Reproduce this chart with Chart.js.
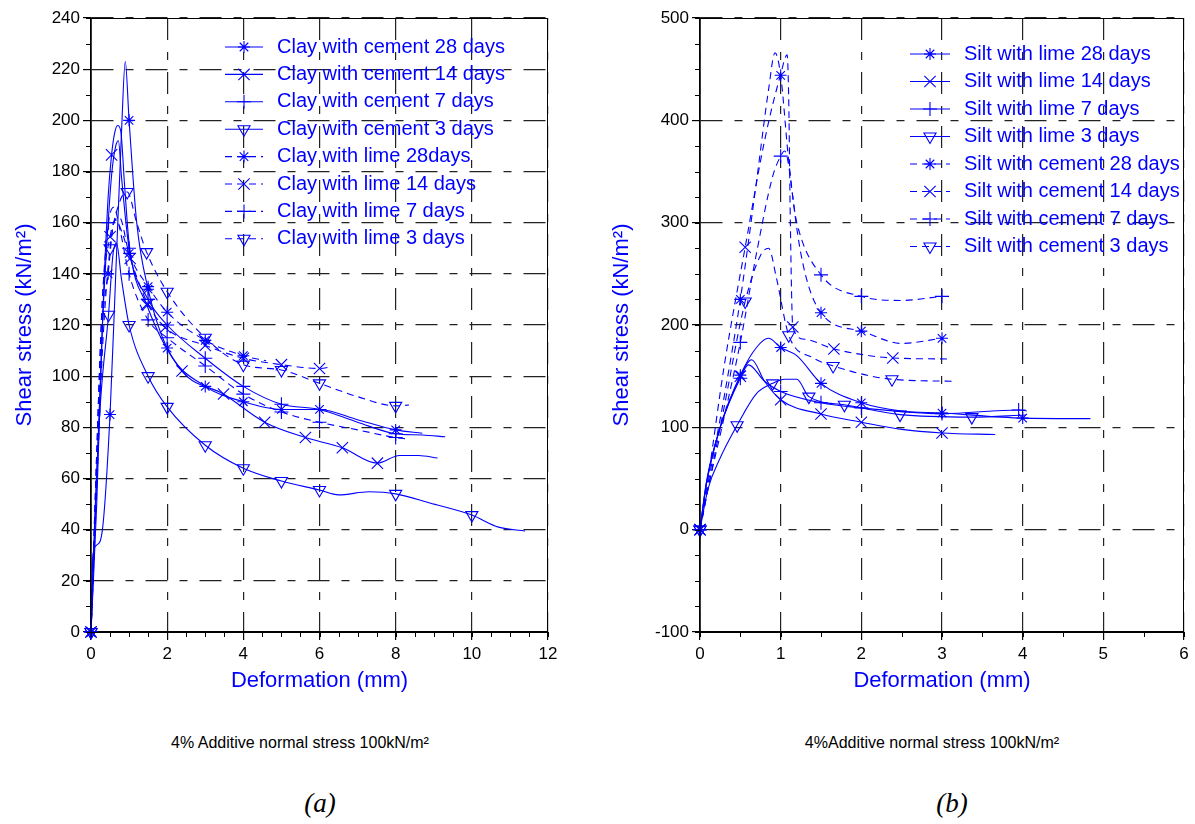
<!DOCTYPE html>
<html>
<head>
<meta charset="utf-8">
<script src="https://cdn.jsdelivr.net/npm/chart.js@4.4.1/dist/chart.umd.min.js"></script>
<style>
  body { margin: 0; background: #fff; width: 1195px; height: 824px; position: relative; overflow: hidden; font-family: 'Liberation Sans', Arial, sans-serif; }
  #boxA { position: absolute; left: 0; top: 0; width: 590px; height: 700px; }
  #boxB { position: absolute; left: 590px; top: 0; width: 605px; height: 700px; }
  .note { position: absolute; top: 734px; font-size: 16px; color: #000; transform: translateX(-50%); white-space: nowrap; }
  .tag { position: absolute; top: 788px; font: italic 27px 'Liberation Serif', 'Times New Roman', serif; color: #000; transform: translateX(-50%); }
</style>
</head>
<body>
<div id="boxA"><canvas id="clay"></canvas></div>
<div id="boxB"><canvas id="silt"></canvas></div>
<div class="note" style="left:300px">4% Additive normal stress 100kN/m²</div>
<div class="note" style="left:932px">4%Additive normal stress 100kN/m²</div>
<div class="tag" style="left:320px">(a)</div>
<div class="tag" style="left:952px">(b)</div>
<script>
// ---- (a) clay, deformation (mm) vs shear stress (kN/m²)
const clayCem28X = [0, 0.05, 0.15, 0.3, 0.5, 0.65, 0.8, 0.9, 1.0, 1.2, 1.5, 2, 3, 4, 5, 6, 7, 8, 8.7]
const clayCem28Y = [0, 30, 34, 40, 85, 140, 195, 223, 200, 160, 134, 111, 96, 90, 87, 87, 83, 79, 77.7]
const clayCem28Marks = [0, 4, 8, 10, 11, 12, 13, 14, 15, 17]

const clayCem14X = [0, 0.15, 0.3, 0.45, 0.54, 0.62, 0.7, 0.78, 0.88, 1.0, 1.46, 2.39, 3.48, 4.56, 5.63, 6.6, 7.52, 8.1, 8.6, 9.1]
const clayCem14Y = [0, 50, 120, 170, 186.5, 195, 198, 196, 175, 152, 128, 102, 93, 82, 76, 72, 66, 69, 69, 68]
const clayCem14Marks = [0, 4, 10, 11, 12, 13, 14, 15, 16]

const clayCem7X = [0, 0.15, 0.3, 0.45, 0.55, 0.65, 0.72, 0.8, 1.0, 1.5, 2, 3, 4, 5, 6, 7, 8, 8.7, 9.3]
const clayCem7Y = [0, 60, 120, 160, 180, 190, 192, 178, 150, 130, 120, 107, 96, 89, 87, 82, 77.5, 77, 76.3]
const clayCem7Marks = [0, 8, 9, 10, 11, 12, 13, 14, 16]

const clayCem3X = [0, 0.1, 0.25, 0.46, 0.58, 0.67, 0.8, 1.0, 1.5, 2, 3, 4, 5, 6, 6.5, 7.3, 8, 8.9, 10, 10.7, 11.4]
const clayCem3Y = [0, 45, 90, 124, 148, 152, 138, 120, 100, 88, 73, 64, 59, 55.5, 53.6, 54.8, 54, 50.4, 45.7, 41, 39.5]
const clayCem3Marks = [0, 3, 7, 8, 9, 10, 11, 12, 13, 16, 18]

const clayLime28X = [0, 0.15, 0.3, 0.45, 0.6, 0.75, 1.0, 1.5, 2, 3, 4, 4.6]
const clayLime28Y = [0, 60, 120, 140, 160, 162, 148, 135, 125, 114, 108, 106]
const clayLime28Marks = [0, 3, 6, 7, 8, 9, 10]

const clayLime14X = [0, 0.15, 0.3, 0.5, 0.65, 0.82, 1.03, 1.5, 1.95, 3, 4, 5, 6, 6.33]
const clayLime14Y = [0, 70, 130, 154.5, 161, 156, 146, 128, 119, 112, 107, 104.5, 103, 103.7]
const clayLime14Marks = [0, 3, 6, 7, 8, 9, 10, 11, 12]

const clayLime7X = [0, 0.15, 0.3, 0.46, 0.6, 0.75, 1.0, 1.5, 2, 3, 4, 5, 6, 7, 8, 8.3]
const clayLime7Y = [0, 70, 130, 160, 166, 158, 140, 122, 115, 104, 93, 86, 82, 79, 76, 75.5]
const clayLime7Marks = [0, 3, 6, 7, 8, 9, 10, 11, 12, 14]

const clayLime3X = [0, 0.15, 0.3, 0.5, 0.75, 0.95, 1.2, 1.46, 2, 3, 4, 5, 6, 7, 8, 8.35]
const clayLime3Y = [0, 55, 110, 150, 168, 172, 160, 148.5, 133, 115, 104.5, 102.4, 97.2, 92, 88.4, 88.7]
const clayLime3Marks = [0, 3, 5, 7, 8, 9, 10, 11, 12, 14]

// ---- (b) silt
const siltLime28X = [0, 0.08, 0.25, 0.5, 0.7, 0.85, 1.0, 1.2, 1.5, 2, 2.5, 3, 4, 4.84]
const siltLime28Y = [0, 47, 100, 151, 178, 187, 178, 170, 143, 124, 116, 114, 109, 108.5]
const siltLime28Marks = [0, 3, 6, 8, 9, 11, 12]

const siltLime14X = [0, 0.08, 0.25, 0.5, 0.64, 0.8, 1.0, 1.5, 2, 2.5, 3, 3.66]
const siltLime14Y = [0, 45, 100, 150, 166, 145, 127, 113, 105, 98, 94.5, 93]
const siltLime14Marks = [0, 3, 6, 7, 8, 10]

const siltLime7X = [0, 0.08, 0.25, 0.5, 0.6, 0.8, 1.0, 1.5, 2, 3, 3.95, 4.05]
const siltLime7Y = [0, 45, 100, 148, 161, 145, 135, 124, 119, 113.4, 117, 116]
const siltLime7Marks = [0, 3, 6, 7, 8, 9, 10]

const siltLime3X = [0, 0.1, 0.25, 0.46, 0.7, 0.9, 1.05, 1.2, 1.35, 1.79, 2.48, 3.37, 4.04]
const siltLime3Y = [0, 40, 70, 102, 133, 143, 147, 147, 130, 122, 112.4, 110, 112]
const siltLime3Marks = [0, 3, 5, 8, 9, 10, 11]

const siltCem28X = [0, 0.1, 0.3, 0.5, 0.7, 0.85, 0.93, 1.0, 1.1, 1.25, 1.5, 2, 2.5, 3]
const siltCem28Y = [0, 45, 130, 225, 340, 430, 466, 444, 360, 270, 212, 194, 182, 187]
const siltCem28Marks = [0, 3, 7, 10, 11, 13]

const siltCem14X = [0, 0.1, 0.3, 0.56, 0.8, 1.0, 1.08, 1.1, 1.12, 1.15, 1.3, 1.66, 2.39, 3.08]
const siltCem14Y = [0, 50, 160, 276, 380, 445, 464, 420, 300, 198, 186, 176.6, 167.8, 166.8]
const siltCem14Marks = [0, 3, 9, 11, 12]

const siltCem7X = [0, 0.1, 0.3, 0.5, 0.7, 0.9, 1.0, 1.05, 1.2, 1.5, 2, 2.5, 3]
const siltCem7Y = [0, 40, 110, 183, 270, 345, 365, 370, 300, 249, 228, 224, 228]
const siltCem7Marks = [0, 3, 6, 9, 10, 12]

const siltCem3X = [0, 0.1, 0.3, 0.56, 0.75, 0.85, 0.95, 1.1, 1.4, 1.65, 2.38, 3.17]
const siltCem3Y = [0, 40, 120, 223, 268, 275, 245, 190, 168, 160, 147, 145]
const siltCem3Marks = [0, 3, 7, 9, 10]

const BLUE = '#0000ff'
const FONT = "'Liberation Sans', Arial, sans-serif"
Chart.defaults.font.family = FONT

// marker shapes used by both panels
const STAR = { shape: 'star', rot: 0, r: 6 }
const XMARK = { shape: 'crossRot', rot: 0, r: 8 }
const PLUS = { shape: 'cross', rot: 0, r: 7 }
const TRI = { shape: 'triangle', rot: 180, r: 7 }

const series = (label, xs, ys, marks, mk, dashed) => ({
	label,
	data: xs.map((x, i) => ({ x, y: ys[i] })),
	showLine: true,
	borderColor: BLUE,
	borderWidth: 1.1,
	borderDash: dashed ? [7, 5] : [],
	cubicInterpolationMode: 'monotone',
	pointStyle: mk.shape,
	pointRotation: mk.rot,
	pointRadius: ctx => marks.includes(ctx.dataIndex) ? mk.r : 0,
	pointBorderColor: BLUE,
	pointBackgroundColor: 'rgba(0,0,0,0)',
	pointBorderWidth: 1.1,
	clip: false,
	marker: mk
})

// minor tick marks, box outline and the in-plot legend
const extras = {
	id: 'extras',
	afterDraw(chart, args, opts) {
		const { ctx, chartArea: a } = chart
		const sx = chart.scales.x, sy = chart.scales.y
		ctx.save()
		ctx.strokeStyle = '#000'
		ctx.lineWidth = 1
		ctx.setLineDash([])
		ctx.beginPath()
		for (let v = sx.min; v <= sx.max + 1e-9; v += opts.minorX) {
			const p = Math.round(sx.getPixelForValue(v)) + 0.5
			ctx.moveTo(p, a.bottom); ctx.lineTo(p, a.bottom + 5)
		}
		for (let v = sy.min; v <= sy.max + 1e-9; v += opts.minorY) {
			const p = Math.round(sy.getPixelForValue(v)) + 0.5
			ctx.moveTo(a.left - 5, p); ctx.lineTo(a.left, p)
		}
		ctx.stroke()
		ctx.strokeRect(a.left, a.top + 0.5, a.right - a.left - 0.5, a.bottom - a.top)

		const lg = opts.legend
		ctx.font = '20px ' + FONT
		ctx.textBaseline = 'middle'
		ctx.fillStyle = BLUE
		chart.data.datasets.forEach((ds, i) => {
			const y = lg.y + i * lg.dy
			ctx.strokeStyle = BLUE
			ctx.lineWidth = 1.1
			ctx.setLineDash(ds.borderDash)
			ctx.beginPath()
			ctx.moveTo(lg.x, y); ctx.lineTo(lg.x + lg.len, y)
			ctx.stroke()
			ctx.setLineDash([])
			ctx.fillStyle = 'rgba(0,0,0,0)'
			Chart.helpers.drawPoint(ctx, { pointStyle: ds.marker.shape, rotation: ds.marker.rot, radius: ds.marker.r, borderWidth: 1.1 }, lg.x + lg.len / 2, y)
			ctx.fillStyle = BLUE
			ctx.fillText(ds.label, lg.x + lg.len + 14, y)
		})
		ctx.restore()
	}
}

const axis = (min, max, step, width, titlePad, title, horizontal) => ({
	type: 'linear',
	min, max,
	ticks: { stepSize: step, color: '#000', font: { size: 17 }, padding: horizontal ? 4 : 3 },
	grid: { color: '#222', lineWidth: 1.2, tickColor: '#000', tickLength: 8, tickBorderDash: [] },
	border: { color: '#000', width: 1.5, dash: [22, 12, 8, 12] },
	title: { display: true, text: title, color: BLUE, font: { size: 22 }, padding: horizontal ? { top: 0, bottom: titlePad } : { top: titlePad, bottom: 0 } },
	afterFit: s => { if (horizontal) s.height = width; else s.width = width }
})

const makeChart = (el, datasets, xs, ys, pad, minorX, minorY, legend) => new Chart(el, {
	type: 'scatter',
	data: { datasets },
	options: {
		responsive: true,
		maintainAspectRatio: false,
		animation: false,
		events: [],
		layout: { padding: pad },
		plugins: { legend: { display: false }, tooltip: { enabled: false }, extras: { minorX, minorY, legend } },
		scales: { x: xs, y: ys }
	},
	plugins: [extras]
})

makeChart(document.getElementById('clay'), [
	series('Clay with cement 28 days', clayCem28X, clayCem28Y, clayCem28Marks, STAR, false),
	series('Clay with cement 14 days', clayCem14X, clayCem14Y, clayCem14Marks, XMARK, false),
	series('Clay with cement 7 days', clayCem7X, clayCem7Y, clayCem7Marks, PLUS, false),
	series('Clay with cement 3 days', clayCem3X, clayCem3Y, clayCem3Marks, TRI, false),
	series('Clay with lime 28days', clayLime28X, clayLime28Y, clayLime28Marks, STAR, true),
	series('Clay with lime 14 days', clayLime14X, clayLime14Y, clayLime14Marks, XMARK, true),
	series('Clay with lime 7 days', clayLime7X, clayLime7Y, clayLime7Marks, PLUS, true),
	series('Clay with lime 3 days', clayLime3X, clayLime3Y, clayLime3Marks, TRI, true)
],
	axis(0, 12, 2, 68, 6, 'Deformation (mm)', true),
	axis(0, 240, 20, 91, 12, 'Shear stress (kN/m²)', false),
	{ top: 18, right: 42, left: 0, bottom: 0 }, 0.5, 10,
	{ x: 225, y: 47, dy: 27.4, len: 38 })

makeChart(document.getElementById('silt'), [
	series('Silt with lime 28 days', siltLime28X, siltLime28Y, siltLime28Marks, STAR, false),
	series('Silt with lime 14 days', siltLime14X, siltLime14Y, siltLime14Marks, XMARK, false),
	series('Silt with lime 7 days', siltLime7X, siltLime7Y, siltLime7Marks, PLUS, false),
	series('Silt with lime 3 days', siltLime3X, siltLime3Y, siltLime3Marks, TRI, false),
	series('Silt with cement 28 days', siltCem28X, siltCem28Y, siltCem28Marks, STAR, true),
	series('Silt with cement 14 days', siltCem14X, siltCem14Y, siltCem14Marks, XMARK, true),
	series('Silt with cement 7 days', siltCem7X, siltCem7Y, siltCem7Marks, PLUS, true),
	series('Silt with cement 3 days', siltCem3X, siltCem3Y, siltCem3Marks, TRI, true)
],
	axis(0, 6, 1, 68, 6, 'Deformation (mm)', true),
	axis(-100, 500, 100, 110, 19, 'Shear stress (kN/m²)', false),
	{ top: 18, right: 11, left: 0, bottom: 0 }, 0.5, 25,
	{ x: 320, y: 54, dy: 27.5, len: 40 })
</script>
</body>
</html>
